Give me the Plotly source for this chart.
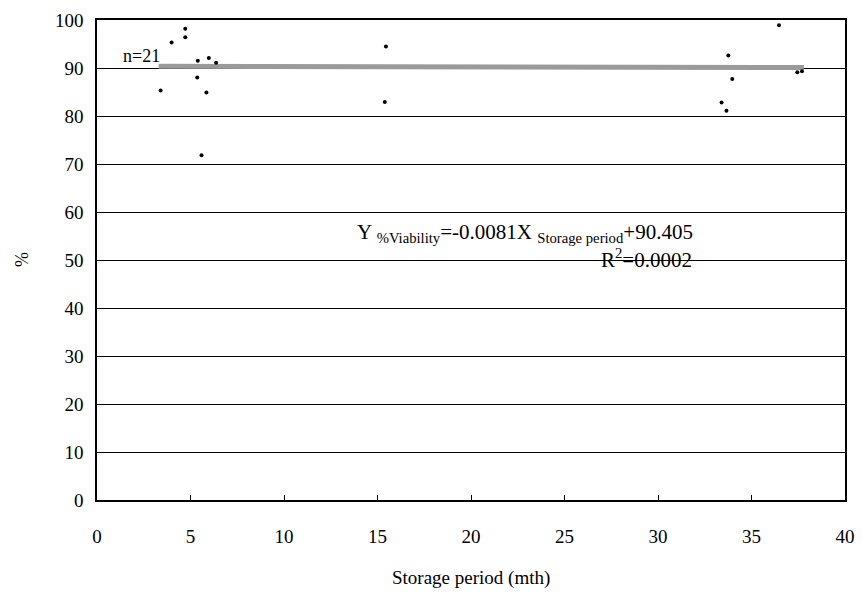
import plotly.graph_objects as go

# Data (storage period in months, % viability)
storage_period = [4.72, 4.72, 3.99, 5.39, 5.98, 6.37, 5.36, 3.40, 5.85, 5.59,
                  15.45, 15.39,
                  33.76, 33.97, 33.40, 33.66, 36.47, 37.45, 37.70]
viability = [98.2, 96.4, 95.3, 91.5, 92.1, 91.1, 88.0, 85.3, 84.9, 71.8,
             94.5, 82.9,
             92.6, 87.7, 82.8, 81.1, 98.9, 89.1, 89.3]

slope = -0.0081
intercept = 90.405
fit_x = [3.3, 37.8]
fit_y = [slope * v + intercept for v in fit_x]

x_ticks = [0, 5, 10, 15, 20, 25, 30, 35, 40]
y_ticks = [0, 10, 20, 30, 40, 50, 60, 70, 80, 90, 100]

FONT = "Liberation Serif"

fig = go.Figure()
fig.add_trace(go.Scatter(x=fit_x, y=fit_y, mode="lines",
                         line=dict(color="#9a9a9a", width=5),
                         showlegend=False, hoverinfo="skip"))
fig.add_trace(go.Scatter(x=storage_period, y=viability, mode="markers",
                         marker=dict(color="black", size=4),
                         showlegend=False))

fig.add_annotation(x=1.3, y=92.5, text="n=21", showarrow=False,
                   xanchor="left", yanchor="middle",
                   font=dict(family=FONT, size=18, color="black"))
fig.add_annotation(x=32.0, y=55.6,
                   text="Y <sub>%Viability</sub>=-0.0081X <sub>Storage period</sub>+90.405",
                   showarrow=False, xanchor="right", yanchor="middle",
                   font=dict(family=FONT, size=21, color="black"))
fig.add_annotation(x=31.9, y=50.3, text="R<sup>2</sup>=0.0002",
                   showarrow=False, xanchor="right", yanchor="middle",
                   font=dict(family=FONT, size=21, color="black"))

# Axis titles
fig.add_annotation(xref="paper", yref="paper", x=0.5, y=0, yshift=-78,
                   text="Storage period (mth)", showarrow=False,
                   xanchor="center", yanchor="middle",
                   font=dict(family=FONT, size=19, color="black"))
fig.add_annotation(xref="paper", yref="paper", x=0, y=0.5, xshift=-75,
                   text="%", showarrow=False, textangle=-90,
                   xanchor="center", yanchor="middle",
                   font=dict(family=FONT, size=18, color="black"))

# page body has an 8px margin, so the figure is sized to fill the rest of the window
fig.update_layout(
    width=855, height=584,
    margin=dict(l=89, r=18, t=12, b=92, autoexpand=False),
    paper_bgcolor="white", plot_bgcolor="white",
    font=dict(family=FONT, size=19, color="black"),
    xaxis=dict(range=[0, 40], tickvals=x_ticks, ticktext=[str(v) for v in x_ticks],
               tickfont=dict(family=FONT, size=19, color="black"),
               showgrid=False, zeroline=False, showline=True, linecolor="black",
               linewidth=1.5, mirror=True, ticks="inside", ticklen=5,
               tickcolor="black", ticklabelstandoff=18, automargin=False),
    yaxis=dict(range=[0, 100], tickvals=y_ticks, ticktext=[str(v) for v in y_ticks],
               tickfont=dict(family=FONT, size=19, color="black"),
               showgrid=True, gridcolor="black", gridwidth=1, zeroline=False,
               showline=True, linecolor="black", linewidth=1.5, mirror=True,
               ticks="", ticklabelstandoff=8, automargin=False),
)

fig.write_html("out.html")
